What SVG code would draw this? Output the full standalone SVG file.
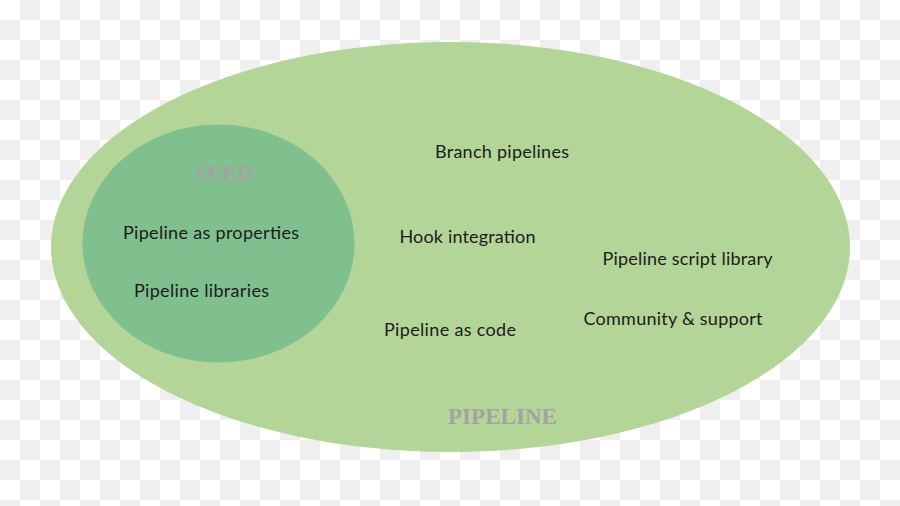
<svg xmlns="http://www.w3.org/2000/svg" width="900" height="506" viewBox="0 0 900 506">
  <defs>
    <pattern id="checker" x="0" y="0" width="40" height="40" patternUnits="userSpaceOnUse">
      <rect x="0" y="0" width="40" height="40" fill="#ffffff"/>
      <rect x="20" y="0" width="20" height="20" fill="#efefef"/>
      <rect x="0" y="20" width="20" height="20" fill="#efefef"/>
    </pattern>
    <style>
      .lbl { font-family: Lato, "Noto Sans", "DejaVu Sans", sans-serif; font-size: 18px; fill: #1c1c1c; }
      .title { font-family: "Liberation Serif", "DejaVu Serif", serif; font-weight: bold; font-size: 24px; fill: #a3a3a3; }
    </style>
  </defs>
  <rect x="0" y="0" width="900" height="506" fill="url(#checker)"/>
  <g id="pipeline">
    <ellipse cx="450.5" cy="247" rx="399.5" ry="205" fill="#b3d598"/>
    <text class="title" x="448" y="424" textLength="109" lengthAdjust="spacingAndGlyphs">PIPELINE</text>
  </g>
  <g id="seed">
    <ellipse cx="218.5" cy="243.5" rx="136" ry="119" fill="#80bf8e"/>
    <text class="title" x="195" y="181" textLength="58" lengthAdjust="spacingAndGlyphs">SEED</text>
  </g>
  <g id="pipeline-as-properties"><text class="lbl" x="123" y="238.5" textLength="176">Pipeline as properties</text></g>
  <g id="pipeline-libraries"><text class="lbl" x="134" y="296.5" textLength="135">Pipeline libraries</text></g>
  <g id="branch-pipelines"><text class="lbl" x="435" y="157.5" textLength="134">Branch pipelines</text></g>
  <g id="hook-integration"><text class="lbl" x="399.5" y="242.5" textLength="136">Hook integration</text></g>
  <g id="pipeline-script-library"><text class="lbl" x="602.5" y="265" textLength="170">Pipeline script library</text></g>
  <g id="community-support"><text class="lbl" x="583.5" y="324.5" textLength="179">Community &amp; support</text></g>
  <g id="pipeline-as-code"><text class="lbl" x="384" y="336" textLength="132">Pipeline as code</text></g>
  <g id="connectors"></g>
</svg>
